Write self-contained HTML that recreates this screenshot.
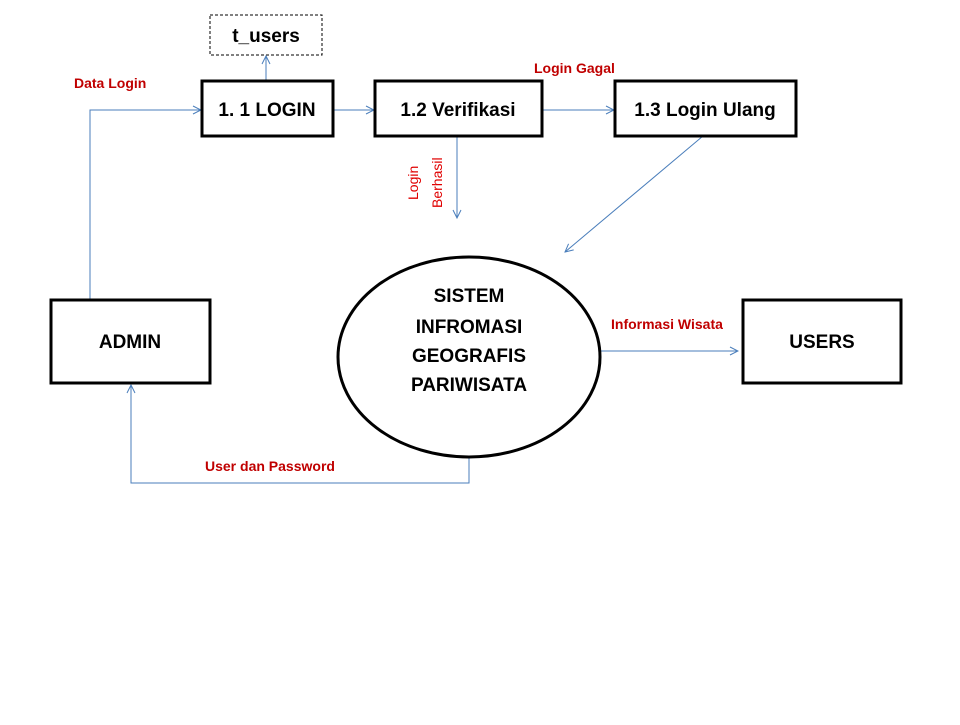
<!DOCTYPE html>
<html><head><meta charset="utf-8"><style>
body{margin:0;background:#fff;width:960px;height:720px;overflow:hidden}
svg text{font-family:"Liberation Sans",sans-serif;font-weight:bold}
</style></head><body>
<svg width="960" height="720" xmlns="http://www.w3.org/2000/svg">
<defs><marker id="a" markerWidth="10" markerHeight="10" refX="9" refY="5" orient="auto" markerUnits="userSpaceOnUse"><path d="M1,1 L9,5 L1,9" fill="none" stroke="#4a7ebb" stroke-width="1"/></marker></defs>
<g fill="none" stroke="#4a7ebb" stroke-width="1">
<polyline points="90,300 90,110 201,110" marker-end="url(#a)"/>
<line x1="333" y1="110" x2="374" y2="110" marker-end="url(#a)"/>
<line x1="542" y1="110" x2="614" y2="110" marker-end="url(#a)"/>
<line x1="266" y1="81" x2="266" y2="56" marker-end="url(#a)"/>
<line x1="457" y1="136" x2="457" y2="218" marker-end="url(#a)"/>
<line x1="703" y1="136" x2="565" y2="252" marker-end="url(#a)"/>
<line x1="600" y1="351" x2="738" y2="351" marker-end="url(#a)"/>
<polyline points="469,458 469,483 131,483 131,385" marker-end="url(#a)"/>
</g>
<g fill="#fff" stroke="#000" stroke-width="3">
<rect x="202" y="81" width="131" height="55"/>
<rect x="375" y="81" width="167" height="55"/>
<rect x="615" y="81" width="181" height="55"/>
<rect x="51" y="300" width="159" height="83"/>
<rect x="743" y="300" width="158" height="83"/>
<ellipse cx="469" cy="357" rx="131" ry="100"/>
</g>
<rect x="210" y="15" width="112" height="40" fill="#fff" stroke="#000" stroke-width="1" stroke-dasharray="3,2"/>
<g font-size="19" text-anchor="middle" fill="#000">
<text x="266" y="42">t_users</text>
<text x="267" y="116">1. 1 LOGIN</text>
<text x="458" y="116">1.2 Verifikasi</text>
<text x="705" y="116">1.3 Login Ulang</text>
<text x="130" y="348">ADMIN</text>
<text x="822" y="348">USERS</text>
<text x="469" y="302">SISTEM</text>
<text x="469" y="333">INFROMASI</text>
<text x="469" y="362">GEOGRAFIS</text>
<text x="469" y="391">PARIWISATA</text>
</g>
<g font-size="14" fill="#c00000">
<text x="74" y="88">Data Login</text>
<text x="534" y="73">Login Gagal</text>
<text x="611" y="329">Informasi Wisata</text>
<text x="205" y="471">User dan Password</text>
</g>
<g font-size="14" fill="#e00000" font-weight="normal">
<text transform="translate(418,200) rotate(-90)" style="font-weight:normal">Login</text>
<text transform="translate(442,208) rotate(-90)" style="font-weight:normal">Berhasil</text>
</g>
</svg>
</body></html>
